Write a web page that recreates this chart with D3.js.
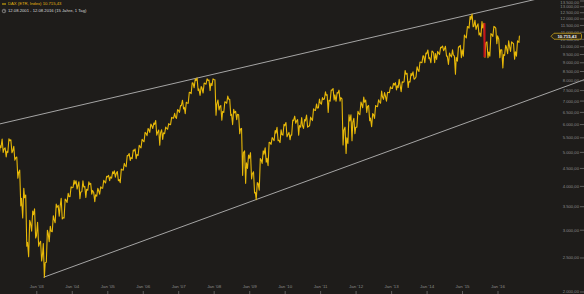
<!DOCTYPE html>
<html>
<head>
<meta charset="utf-8">
<script src="https://cdn.jsdelivr.net/npm/d3@7"></script>
<style>
  html, body { margin: 0; padding: 0; background: #1e1c1a; }
  svg { display: block; font-family: "Liberation Sans", Arial, sans-serif; }
</style>
</head>
<body>
<div id="chart"></div>
<script>
// DAX monthly data, starting Dec 2001 (close / high / low)
const firstMonth = [2001, 11];
const startValue = 5045; // close end of Nov 2001
const monthCloses = [
  5160,
  5108, 5039, 5397, 5041, 4818, 4383, 3700, 3712, 2769, 3153, 3320, 2893,
  2748, 2547, 2424, 2942, 2983, 3221, 3487, 3484, 3257, 3656, 3746, 3965,
  4059, 4018, 3856, 3985, 3921, 4053, 3895, 3785, 3893, 3960, 4126, 4256,
  4255, 4350, 4349, 4185, 4461, 4587, 4887, 4830, 5044, 4929, 5193, 5408,
  5674, 5797, 5970, 6009, 5692, 5683, 5682, 5859, 6004, 6269, 6309, 6597,
  6789, 6715, 6917, 7409, 7884, 8007, 7584, 7638, 7862, 8020, 7871, 8067,
  6852, 6748, 6535, 6949, 7097, 6418, 6480, 6422, 5831, 4988, 4669, 4810,
  4338, 3844, 4085, 4770, 4941, 4809, 5332, 5465, 5675, 5415, 5625, 5957,
  5608, 5598, 6154, 6136, 5965, 5966, 6148, 5925, 6229, 6601, 6688, 6914,
  7077, 7272, 7041, 7514, 7294, 7376, 7159, 5785, 5502, 6141, 6089, 5898,
  6458, 6856, 6947, 6761, 6264, 6416, 6772, 6971, 7216, 7260, 7406, 7612,
  7776, 7742, 7795, 7914, 8349, 7959, 8276, 8103, 8594, 9033, 9406, 9552,
  9306, 9692, 9556, 9603, 9943, 9833, 9407, 9470, 9474, 9327, 9980, 9806,
  10694, 11402, 11966, 11454, 11414, 10945, 11309, 10259, 9660, 10850, 11382, 10743,
  9798, 9495, 9966, 10039, 10263, 9680, 10337, 10713
];
const monthHighs = [
  5220,
  5460, 5150, 5467, 5430, 5200, 4850, 4450, 3950, 3780, 3200, 3400, 3450,
  3160, 2790, 2750, 3000, 3080, 3300, 3560, 3530, 3700, 3680, 3820, 3990,
  4160, 4150, 4120, 4150, 4000, 4120, 4080, 3840, 3950, 3990, 4160, 4272,
  4300, 4400, 4430, 4410, 4480, 4650, 4900, 4960, 5080, 5110, 5240, 5450,
  5700, 5850, 6020, 6060, 6162, 5790, 5800, 5900, 6040, 6290, 6460, 6620,
  6800, 7040, 6950, 7420, 7890, 8090, 8151, 7700, 7880, 8100, 8040, 8100,
  8050, 7050, 6800, 6970, 7230, 7080, 6630, 6550, 6400, 5850, 5050, 4910,
  4990, 4400, 4100, 4800, 5050, 5150, 5340, 5510, 5770, 5890, 5800, 6010,
  6080, 5700, 6180, 6340, 6200, 6280, 6200, 6390, 6300, 6650, 6870, 7090,
  7160, 7440, 7300, 7530, 7600, 7400, 7520, 7100, 5900, 6400, 6400, 6250,
  6550, 6960, 7190, 7050, 6800, 6450, 6800, 7060, 7480, 7400, 7420, 7690,
  7870, 7900, 8070, 7950, 8560, 8400, 8400, 8480, 8770, 9050, 9420, 9600,
  9790, 9720, 9600, 9700, 9960, 10050, 10030, 9600, 9800, 9400, 10000, 10090,
  10800, 11420, 12220, 12390, 11900, 11620, 11800, 11670, 10320, 10900, 11430, 11300,
  10500, 9800, 10100, 10400, 10330, 10200, 10400, 10720
];
const monthLows = [
  4900,
  5000, 4850, 5000, 4990, 4750, 4220, 3520, 3250, 2700, 2520, 2980, 2850,
  2700, 2450, 2203, 2430, 2780, 2970, 3150, 3290, 3230, 3250, 3600, 3740,
  3970, 3930, 3690, 3860, 3720, 3900, 3800, 3620, 3750, 3800, 3950, 4090,
  4150, 4220, 4250, 4150, 4100, 4450, 4550, 4740, 4800, 4800, 4900, 5150,
  5360, 5580, 5700, 5850, 5600, 5240, 5440, 5650, 5820, 6000, 6260, 6250,
  6500, 6650, 6440, 6900, 7350, 7640, 7500, 7270, 7380, 7820, 7500, 7750,
  6380, 6600, 6170, 6500, 6900, 6370, 6000, 6200, 5650, 4300, 4080, 4500,
  4200, 3830, 3666, 3900, 4650, 4690, 4580, 5270, 5400, 5400, 5330, 5600,
  5540, 5430, 5600, 6050, 5600, 5900, 5850, 5900, 5950, 6160, 6580, 6690,
  6860, 7100, 6500, 7000, 7050, 6990, 7000, 5250, 4966, 5300, 5400, 5650,
  5900, 6400, 6700, 6500, 6150, 5915, 6250, 6750, 6900, 7080, 7000, 7400,
  7600, 7530, 7650, 7450, 7950, 7650, 7930, 8080, 8200, 8500, 9000, 9000,
  9250, 9000, 9000, 9200, 9500, 9750, 9400, 8900, 9350, 8355, 9100, 9300,
  9400, 10600, 11300, 11400, 11200, 10800, 10700, 9340, 9300, 9400, 10700, 10200,
  9300, 8700, 9450, 9550, 9700, 9210, 9400, 10280
];
const lastDay = [2016, 7, 12];

// trend lines: anchor points [date, value]
const upperTrend = [["2007-07-16", 8151], ["2015-04-10", 12390]];
const lowerTrend = [["2003-03-12", 2203], ["2009-03-06", 3666]];
// red marker: Aug 2015 drop
const marker = [["2015-08-10", 11670], ["2015-08-24", 9340]];

const yTicks = d3.range(2000, 13501, 500);
const xTickYears = d3.range(2003, 2017);
const legendTitle = "DAX (ETR, Index) 10.715,43";
const legendRange = "12.08.2001 - 12.08.2016 (15 Jahre, 1 Tag)";
const lastLabel = "10.715,43";

const W = 584, H = 294;
const parse = d3.timeParse("%Y-%m-%d");
const de = d3.formatLocale({decimal: ",", thousands: ".", grouping: [3], currency: ["", "€"]});
const fmt = de.format(",.2f");

// build the series
const series = [{date: new Date(firstMonth[0], firstMonth[1], 0), value: startValue}];
monthCloses.forEach((c, i) => {
  const y = firstMonth[0], m = firstMonth[1] + i;
  const prev = series[series.length - 1].value;
  const last = i === monthCloses.length - 1;
  const endDay = last ? lastDay[2] : 28;
  const d1 = new Date(y, m, last ? 4 : 9), d2 = new Date(y, m, last ? 8 : 20);
  if (c >= prev) {
    series.push({date: d1, value: monthLows[i]}, {date: d2, value: monthHighs[i]});
  } else {
    series.push({date: d1, value: monthHighs[i]}, {date: d2, value: monthLows[i]});
  }
  series.push({date: new Date(y, m, endDay), value: c});
});

const x = d3.scaleTime()
  .domain([new Date(2003, 0, 1), new Date(2016, 0, 1)])
  .range([36.8, 498]);
const y = d3.scaleLog()
  .domain([2000, 13500])
  .range([292, 1]);

const svg = d3.select("#chart").append("svg")
  .attr("width", W)
  .attr("height", H);

svg.append("rect").attr("width", W).attr("height", H).attr("fill", "#1e1c1a");

// trend lines, extended in pixel space
function trendLine(pts, x0, x1) {
  const p = pts.map(d => [x(parse(d[0])), y(d[1])]);
  const k = (p[1][1] - p[0][1]) / (p[1][0] - p[0][0]);
  const xa = x0 === null ? p[0][0] : x0;
  return [[xa, p[0][1] + k * (xa - p[0][0])], [x1, p[0][1] + k * (x1 - p[0][0])]];
}
svg.append("path")
  .attr("d", d3.line()(trendLine(upperTrend, 0, W)))
  .attr("stroke", "#c8c8c8").attr("stroke-width", 0.8).attr("fill", "none");
svg.append("path")
  .attr("d", d3.line()(trendLine(lowerTrend, null, W)))
  .attr("stroke", "#c8c8c8").attr("stroke-width", 0.8).attr("fill", "none");

// price line
svg.append("path")
  .datum(series)
  .attr("d", d3.line().x(d => x(d.date)).y(d => y(d.value)))
  .attr("fill", "none")
  .attr("stroke", "#e8b908")
  .attr("stroke-width", 1.1)
  .attr("stroke-linejoin", "round");

// red marker
const mx0 = x(parse(marker[0][0])), mx1 = x(parse(marker[1][0]));
svg.append("rect")
  .attr("x", mx0 - 0.5)
  .attr("y", y(marker[0][1]))
  .attr("width", Math.max(2, mx1 - mx0))
  .attr("height", y(marker[1][1]) - y(marker[0][1]))
  .attr("fill", "#c8141c");

const lastVal = monthCloses[monthCloses.length - 1];
const ly = y(lastVal);

// y axis labels on the right
const yAx = svg.append("g");
yTicks.forEach(v => {
  const ty = y(v);
  yAx.append("line")
    .attr("x1", 580).attr("x2", 584).attr("y1", ty).attr("y2", ty)
    .attr("stroke", "#8c8c8c").attr("stroke-width", 0.6);
  yAx.append("text")
    .attr("x", 579).attr("y", Math.max(ty, 2.6)).attr("dy", "0.35em")
    .attr("text-anchor", "end")
    .attr("font-size", 4.2)
    .attr("fill", "#8c8c8c")
    .text(fmt(v));
});

// x axis labels
const xAx = svg.append("g");
xTickYears.forEach(yr => {
  const px = x(new Date(yr, 0, 1));
  xAx.append("text")
    .attr("x", px).attr("y", 288)
    .attr("text-anchor", "middle")
    .attr("font-size", 4.4)
    .attr("fill", "#8c8c8c")
    .text("Jan '" + String(yr).slice(2));
  xAx.append("line")
    .attr("x1", px).attr("x2", px).attr("y1", 291).attr("y2", 294)
    .attr("stroke", "#8c8c8c").attr("stroke-width", 0.6);
});

// last value label, drawn over the axis labels
svg.append("path")
  .attr("d", `M551,${ly} L554,${ly - 3} L580,${ly - 3} Q581.5,${ly - 3} 581.5,${ly - 1.6} L581.5,${ly + 1.6} Q581.5,${ly + 3} 580,${ly + 3} L554,${ly + 3} Z`)
  .attr("fill", "#2b2618")
  .attr("stroke", "#c9a21a")
  .attr("stroke-width", 0.8);
svg.append("text")
  .attr("x", 567).attr("y", ly).attr("dy", "0.36em")
  .attr("text-anchor", "middle")
  .attr("font-size", 4.3)
  .attr("font-weight", "bold")
  .attr("fill", "#f2f2f2")
  .text(lastLabel);

// legend
svg.append("line")
  .attr("x1", 2).attr("x2", 6).attr("y1", 4).attr("y2", 4)
  .attr("stroke", "#e8b908").attr("stroke-width", 1);
svg.append("text")
  .attr("x", 8).attr("y", 4).attr("dy", "0.35em")
  .attr("font-size", 4.2)
  .attr("fill", "#e0b410")
  .text(legendTitle);
svg.append("circle")
  .attr("cx", 4).attr("cy", 11).attr("r", 1.8)
  .attr("fill", "none").attr("stroke", "#cfcfcf").attr("stroke-width", 0.5);
svg.append("path")
  .attr("d", "M4,9.9 L4,11 L5,11")
  .attr("fill", "none").attr("stroke", "#cfcfcf").attr("stroke-width", 0.4);
svg.append("text")
  .attr("x", 8).attr("y", 11).attr("dy", "0.35em")
  .attr("font-size", 4.2)
  .attr("fill", "#d8d8d8")
  .text(legendRange);
</script>
</body>
</html>
